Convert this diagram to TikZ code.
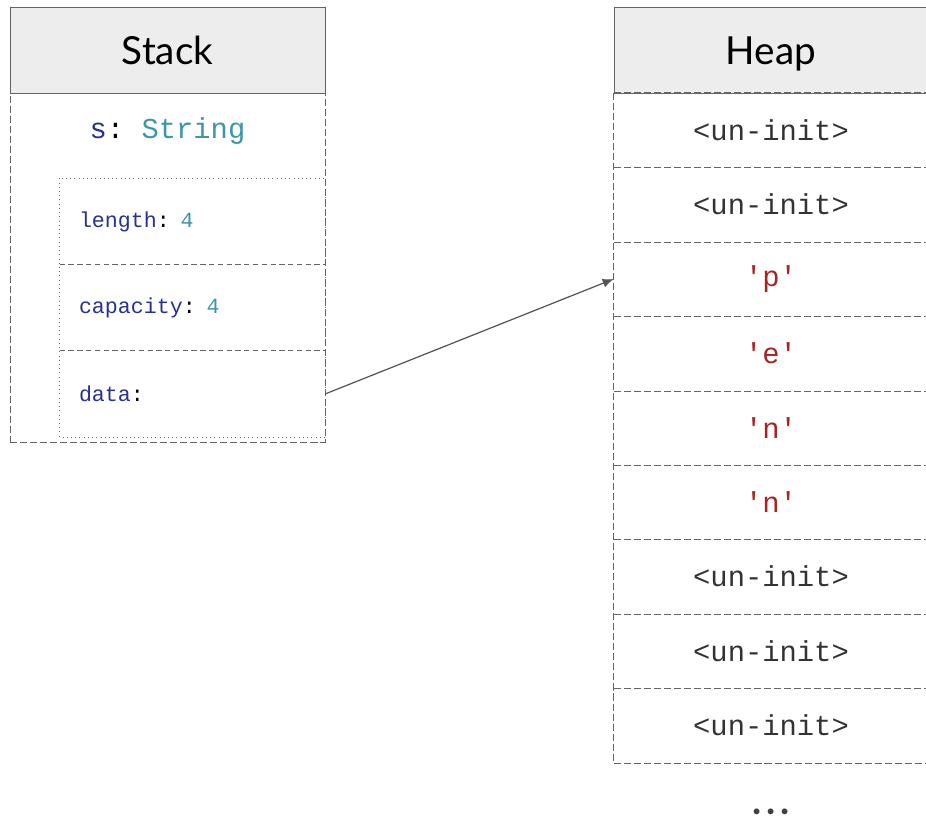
\documentclass[tikz,border=0pt]{standalone}
\usepackage{fontspec}
\setmainfont{Lato}
\setmonofont{Liberation Mono}
\usetikzlibrary{arrows.meta, positioning}

\definecolor{fieldblue}{RGB}{40,50,140}
\definecolor{valteal}{RGB}{60,150,170}
\definecolor{charred}{RGB}{170,35,35}
\definecolor{linegray}{RGB}{100,100,100}

\newcommand{\uninit}{\textcolor{black!80}{<un-init>}}
\newcommand{\heapchr}[1]{\textcolor{charred}{'#1'}}
\newcommand{\colonsep}{\textcolor{black}{:}}

\tikzset{
  header/.style={draw=linegray, fill=black!7, minimum height=1.72cm, inner sep=0pt,
    text height=16pt, text depth=0pt, font=\fontsize{22}{26}\selectfont},
  cellline/.style={draw=linegray, dash pattern=on 4pt off 1.7pt},
  heapcell/.style={minimum width=6.28cm, minimum height=1.49cm, inner sep=0pt,
    font=\ttfamily\fontsize{16.4}{18}\selectfont},
  field/.style={minimum width=5.3cm, minimum height=1.71cm, text width=4.54cm, align=left,
    inner xsep=0.38cm, inner ysep=0pt, text=fieldblue,
    font=\ttfamily\fontsize{12.3}{14}\selectfont},
}

\begin{document}
\begin{tikzpicture}[x=0.02cm, y=-0.02cm]
    \useasboundingbox (0,0) rectangle (926,819);
    % stack side
    \node[cellline, minimum width=6.3cm, minimum height=6.98cm, inner sep=0pt] (stackbody) at (167.5,267.5) {};
    \node[header, minimum width=6.3cm] (stack) at (167.5,50) {Stack};
    \node[font=\ttfamily\fontsize{16.4}{18}\selectfont] (var) at (167.5,131)
      {\textcolor{fieldblue}{s}: \textcolor{valteal}{String}};
    \node[field] (len) at (192.5,221.5) {length\colonsep{} \textcolor{valteal}{4}};
    \node[field, below=0pt of len] (cap) {capacity\colonsep{} \textcolor{valteal}{4}};
    \node[field, below=0pt of cap] (data) {data\colonsep};
    \draw[linegray, dotted] (len.north west) rectangle (data.south east);
    \draw[linegray, densely dashed] (len.south west) -- (len.south east);
    \draw[linegray, densely dashed] (cap.south west) -- (cap.south east);
    % heap side
    \node[header, minimum width=6.28cm] (heap) at (771,50) {Heap};
    \foreach \i/\txt in {1/\uninit, 2/\uninit, 3/\heapchr{p}, 4/\heapchr{e}, 5/\heapchr{n},
                         6/\heapchr{n}, 7/\uninit, 8/\uninit, 9/\uninit}
      \node[heapcell] (h\i) at (771, {93+74.4*(\i-0.5)}) {\txt};
    \draw[cellline] (h1.north west) rectangle (h9.south east);
    \foreach \i in {1,...,8}
      \draw[cellline] (h\i.south west) -- (h\i.south east);
    \node[anchor=base, inner sep=0pt, text depth=0pt, text=black!75,
      font=\bfseries\fontsize{22}{26}\selectfont] (more) at (771,814)
      {.\hspace{2.5pt}.\hspace{2.5pt}.};
    % pointer
    \draw[linegray!85!black, line width=0.7pt, -{Latex[length=2.2mm, width=1.8mm]}] (data.east) -- (h3.west);
\end{tikzpicture}
\end{document}
